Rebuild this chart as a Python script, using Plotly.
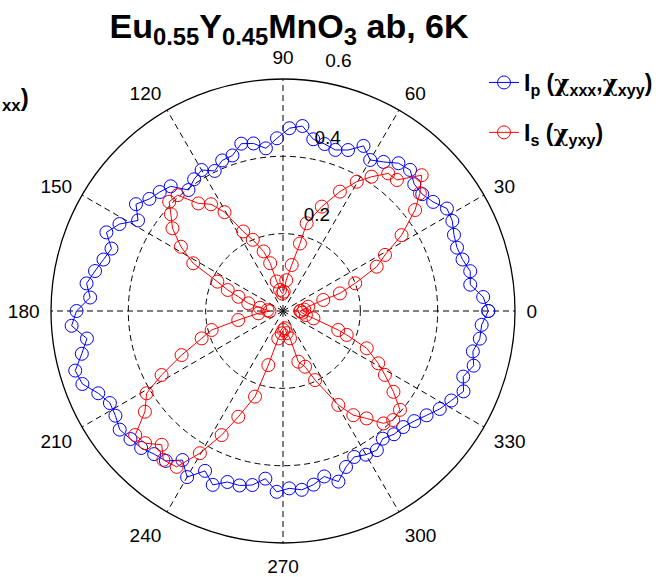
import plotly.graph_objects as go

W, H = 659, 577
cx, cy, R = 283, 311, 232

# I_p (chi_xxx, chi_xyy): blue, 4-degree steps
theta_p = list(range(0, 360, 4))
r_p = [0.531, 0.519, 0.489, 0.495, 0.483, 0.479, 0.484, 0.496, 0.500, 0.480,
       0.470, 0.472, 0.491, 0.485, 0.465, 0.451, 0.475, 0.449, 0.438, 0.445,
       0.451, 0.481, 0.473, 0.447, 0.423, 0.440, 0.446, 0.423, 0.420, 0.403,
       0.421, 0.411, 0.397, 0.434, 0.443, 0.451, 0.470, 0.442, 0.479, 0.500,
       0.472, 0.483, 0.497, 0.513, 0.500, 0.534, 0.548, 0.512, 0.532, 0.559,
       0.552, 0.523, 0.507, 0.511, 0.522, 0.515, 0.510, 0.498, 0.492, 0.465,
       0.496, 0.460, 0.485, 0.465, 0.465, 0.457, 0.436, 0.468, 0.459, 0.465,
       0.456, 0.441, 0.464, 0.435, 0.420, 0.429, 0.434, 0.419, 0.429, 0.432,
       0.443, 0.459, 0.478, 0.493, 0.511, 0.496, 0.513, 0.502, 0.514, 0.515]

# I_s (chi_yxy): red
theta_s = [0, 4, 9.7, 15.3, 17.2, 21, 25.3, 28.8, 32.6, 37.4, 40.7, 44.4, 49, 52.6,
           56.6, 60.3, 64.5, 69.6, 74.9, 75.9, 79.3, 84, 88, 92, 98, 102, 105, 108,
           113, 116.6, 120.6, 124, 128.2, 132.3, 136.2, 139.2, 143.2, 147.8, 152,
           155.9, 159.2, 162.3, 167.5, 172, 177, 181, 185.3, 191.4, 194.9, 198.6,
           203.5, 207.8, 211.1, 216.1, 220, 223.8, 227.8, 231.2, 235.7, 239.7,
           243.7, 247.1, 251.9, 254.8, 260.2, 266.6, 271, 276.6, 279.4, 284.4,
           286.8, 291.6, 294.9, 300.5, 304, 307.9, 311.8, 315.3, 319.8, 323.8,
           327.9, 331.2, 336, 339.4, 341, 346.5, 350, 355]
r_s = [0.045, 0.055, 0.066, 0.108, 0.154, 0.200, 0.268, 0.301, 0.364, 0.430,
       0.467, 0.502, 0.449, 0.448, 0.416, 0.385, 0.342, 0.288, 0.235, 0.180,
       0.121, 0.080, 0.050, 0.045, 0.055, 0.078, 0.128, 0.162, 0.200, 0.230,
       0.297, 0.333, 0.354, 0.405, 0.408, 0.383, 0.357, 0.312, 0.263, 0.186,
       0.153, 0.121, 0.092, 0.060, 0.040, 0.035, 0.064, 0.118, 0.191, 0.222,
       0.286, 0.355, 0.412, 0.442, 0.499, 0.494, 0.467, 0.494, 0.488, 0.426,
       0.358, 0.297, 0.233, 0.145, 0.072, 0.058, 0.049, 0.045, 0.058, 0.073,
       0.137, 0.155, 0.197, 0.282, 0.325, 0.352, 0.390, 0.401, 0.396, 0.354,
       0.311, 0.281, 0.237, 0.176, 0.151, 0.081, 0.060, 0.050]

angle_ticks = list(range(0, 360, 30))
radial_ticks = [0.2, 0.4, 0.6]

font_family = "Liberation Sans, Arial, Helvetica, sans-serif"
CHI = '<span style="font-family:DejaVu Serif">χ</span>'

fig = go.Figure()
fig.add_trace(go.Scatterpolar(
    r=r_p + r_p[:1], theta=theta_p + theta_p[:1], mode="lines+markers",
    name=f"<b>I<sub>p</sub> ({CHI}<sub>xxx</sub>,{CHI}<sub>xyy</sub>)</b>",
    legendgroup="p",
    line=dict(color="#0000FF", width=1),
    marker=dict(symbol="circle-open", size=13, color="#0000FF", line=dict(width=1)),
))
fig.add_trace(go.Scatterpolar(
    r=r_s + r_s[:1], theta=theta_s + theta_s[:1], mode="lines+markers",
    name=f"<b>I<sub>s</sub> ({CHI}<sub>yxy</sub>)</b>",
    legendgroup="s",
    line=dict(color="#FF0000", width=1),
    marker=dict(symbol="circle-open", size=13, color="#FF0000", line=dict(width=1)),
))

fig.update_layout(
    width=W, height=H,
    margin=dict(l=0, r=0, t=0, b=0),
    paper_bgcolor="white",
    font=dict(family=font_family, color="black", size=19),
    title=dict(
        text="<b>Eu<sub>0.55</sub>Y<sub>0.45</sub>MnO<sub>3</sub> ab, 6K</b>",
        x=289 / W, xanchor="center", xref="container",
        y=1 - 14 / H, yanchor="top", yref="container",
        font=dict(size=34, family=font_family, color="black"),
    ),
    polar=dict(
        domain=dict(x=[(cx - R) / W, (cx + R) / W], y=[1 - (cy + R) / H, 1 - (cy - R) / H]),
        bgcolor="white",
        angularaxis=dict(
            rotation=0, direction="counterclockwise",
            tickmode="array", tickvals=angle_ticks,
            ticktext=[str(a) for a in angle_ticks],
            showline=True, linecolor="black", linewidth=1.3,
            showgrid=True, gridcolor="black", gridwidth=1, griddash="6px,4px",
            ticks="outside", ticklen=7, tickcolor="rgba(0,0,0,0)",
            tickfont=dict(size=19, family=font_family, color="black"),
        ),
        radialaxis=dict(
            range=[0, 0.6], tickmode="array", tickvals=radial_ticks,
            ticktext=[f"{v:.1f}<br> <br> " for v in radial_ticks],
            angle=82, tickangle=82,
            showline=False, ticks="",
            showgrid=True, gridcolor="black", gridwidth=1, griddash="6px,4px",
            tickfont=dict(size=19, family=font_family, color="black"),
        ),
    ),
    showlegend=True,
    legend=dict(
        x=484 / W, y=1 - 61 / H, xanchor="left", yanchor="top",
        font=dict(size=23, family=font_family, color="black"),
        bgcolor="rgba(0,0,0,0)", tracegroupgap=17,
    ),
    annotations=[dict(
        text="<b><sub>xx</sub>)</b>", x=0, y=1 - 100 / H, xref="paper", yref="paper",
        xanchor="left", yanchor="middle", showarrow=False,
        font=dict(size=24, family=font_family, color="black"),
    )],
)

fig.write_html("out.html")
